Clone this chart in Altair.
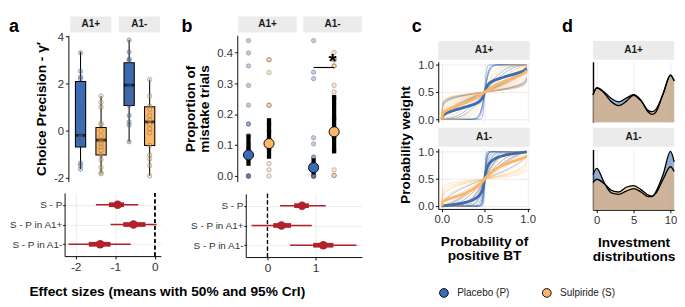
import altair as alt
import numpy as np
import pandas as pd

FONT = "Liberation Sans"
BLUE = "#3C6DB4"
ORANGE = "#FBB767"
RED = "#B2202A"
STRIP = "#EBEBEB"
GRID = "#EBEBEB"
TXT = "#333333"
TITLE_SIZE = 14.5

conds = ["A1+", "A1-"]
groups = ["P", "S"]
group_labels = ["Placebo (P)", "Sulpiride (S)"]

# ---------------- panel a : choice precision (gamma') per participant
prec_plus_P = [3.3, 2.52, 2.28, 2.2, 0.83, 0.56, -0.2, -0.28, -0.37, -0.49, -1.37, -1.48, -1.63]
prec_plus_S = [1.47, 1.2, 0.99, 0.31, 0.24, 0.0, -0.23, -0.43, -0.56, -0.69, -0.83, -1.03, -1.23, -1.56, -1.79, -1.83]
prec_minus_P = [3.84, 3.33, 3.04, 2.97, 2.77, 2.37, 1.93, 1.77, 1.47, 1.17, 1.07, 0.64, 0.37, 0.24, -0.47]
prec_minus_S = [2.17, 1.47, 1.04, 0.91, 0.64, 0.44, 0.27, 0.08, -0.09, -0.63, -1.03, -1.2, -1.48, -1.92]

box_cond = ["A1+", "A1+", "A1-", "A1-"]
box_grp = ["P", "S", "P", "S"]
box_lo = [-1.63, -1.83, -0.47, -1.92]
box_q1 = [-0.69, -1.03, 1.07, -0.63]
box_med = [-0.2, -0.4, 1.93, 0.37]
box_q3 = [2.08, 0.13, 2.88, 1.01]
box_hi = [3.33, 1.47, 3.84, 2.17]

# ---------------- panel b : proportion of mistake trials
mist_plus_P = [0.438, 0.398, 0.356, 0.293, 0.229, 0.168, 0.168, 0.131, 0.104, 0.09, 0.0, 0.0, 0.0, 0.0]
mist_plus_S = [0.376, 0.376, 0.335, 0.229, 0.229, 0.168, 0.145, 0.12, 0.086, 0.04, 0.02, 0.0]
mist_minus_P = [0.438, 0.336, 0.315, 0.124, 0.104, 0.061, 0.061, 0.0, 0.0, 0.0, 0.0, 0.0]
mist_minus_S = [0.4, 0.376, 0.376, 0.356, 0.356, 0.293, 0.272, 0.252, 0.186, 0.124, 0.084, 0.02, 0.002, 0.002]
mist_mean = [0.068, 0.105, 0.027, 0.143]
mist_lo = [0.033, 0.056, 0.005, 0.073]
mist_hi = [0.135, 0.187, 0.057, 0.262]
sig_level = 0.351
sig_star_y = 0.37

# ---------------- effect sizes (means, 50% and 95% CrI)
effect_labels = ["S - P", "S - P in A1+", "S - P in A1-"]
effA_mean = [-0.94, -0.54, -1.38]
effA_lo95 = [-1.49, -1.12, -2.18]
effA_hi95 = [-0.42, 0.04, -0.61]
effA_lo50 = [-1.16, -0.80, -1.67]
effA_hi50 = [-0.78, -0.24, -1.12]
effB_mean = [0.72, 0.29, 1.16]
effB_lo95 = [0.26, -0.33, 0.47]
effB_hi95 = [1.21, 0.92, 1.85]
effB_lo50 = [0.555, 0.12, 0.95]
effB_hi50 = [0.86, 0.49, 1.37]

# ---------------- panel c : probability grid of the weighting functions
p_grid = [round(0.01 * k, 2) for k in range(100)]

# ---------------- panel d : investment densities
inv_x = [-0.5, 0, 1, 2, 3, 4, 5, 6, 7, 7.5, 8, 9, 10, 10.5]
dens_plus_P = [0.116, 0.146, 0.128, 0.100, 0.086, 0.102, 0.116, 0.093, 0.042, 0.033, 0.042, 0.120, 0.200, 0.176]
dens_plus_S = [0.116, 0.144, 0.124, 0.086, 0.070, 0.088, 0.114, 0.090, 0.049, 0.044, 0.053, 0.120, 0.198, 0.174]
dens_minus_P = [0.150, 0.176, 0.116, 0.072, 0.066, 0.080, 0.090, 0.076, 0.056, 0.056, 0.076, 0.150, 0.248, 0.203]
dens_minus_S = [0.116, 0.130, 0.112, 0.083, 0.076, 0.096, 0.103, 0.086, 0.063, 0.058, 0.070, 0.130, 0.183, 0.163]

# ======================================================================
XO = alt.XOffset("grp:N", scale=alt.Scale(domain=groups, paddingInner=0.5, paddingOuter=0.25))
COL = alt.Color("grp:N", scale=alt.Scale(domain=groups, range=[BLUE, ORANGE]), legend=None)
FILL = alt.Fill("grp:N", scale=alt.Scale(domain=groups, range=[BLUE, ORANGE]), legend=None)
LETTER_SIZE = 19


def xband(rng, pinner):
    return alt.X("cond:N", scale=alt.Scale(domain=conds, range=rng, paddingInner=pinner, paddingOuter=0), axis=None)


def strip(domain, width, rng, pinner, letter=None, letter_x=0, height=20):
    df = pd.DataFrame({"cond": domain})
    x = alt.X("cond:N", scale=alt.Scale(domain=domain, range=rng, paddingInner=pinner, paddingOuter=0), axis=None)
    layers = [
        alt.Chart(df).mark_rect(color=STRIP).encode(x=x),
        alt.Chart(df).mark_text(font=FONT, fontSize=10.6, fontWeight="bold", color="#1A1A1A").encode(x=x, text="cond:N"),
    ]
    if letter:
        layers.append(
            alt.Chart(pd.DataFrame({"t": [letter]}))
            .mark_text(font=FONT, fontSize=LETTER_SIZE, fontWeight="bold", color="black", align="left", baseline="middle")
            .encode(x=alt.value(letter_x), y=alt.value(10), text="t:N")
        )
    return alt.layer(*layers).properties(width=width, height=height)


def letter_chart(letter, width, x):
    return (
        alt.Chart(pd.DataFrame({"t": [letter]}))
        .mark_text(font=FONT, fontSize=LETTER_SIZE, fontWeight="bold", color="black", align="left", baseline="middle")
        .encode(x=alt.value(x), y=alt.value(10), text="t:N")
        .properties(width=width, height=19)
    )


def long_points(lists, field):
    rows = []
    for (c, g), vals in lists:
        for v in vals:
            rows.append({"cond": c, "grp": g, field: v})
    return pd.DataFrame(rows)


# ---------------- panel a top
ptsA = long_points([(("A1+", "P"), prec_plus_P), (("A1+", "S"), prec_plus_S),
                    (("A1-", "P"), prec_minus_P), (("A1-", "S"), prec_minus_S)], "v")
statsA = pd.DataFrame(dict(cond=box_cond, grp=box_grp, lo=box_lo, q1=box_q1, med=box_med, q3=box_q3, hi=box_hi))
xA = xband([2, 97], 0.155)
yA_scale = alt.Scale(domain=[-2.16, 4.04], nice=False, zero=False)
yA_axis = alt.Axis(values=[-2, 0, 2, 4], title="Choice Precision - γ′", labelExpr="'' + datum.value", grid=False,
                   offset=0, labelFontSize=12)


def yA(f):
    return alt.Y(f, type="quantitative", scale=yA_scale, axis=yA_axis)


boxA = alt.layer(
    alt.Chart(statsA).mark_rule(color="black", strokeWidth=1.1).encode(x=xA, xOffset=XO, y=yA("lo"), y2="hi:Q"),
    alt.Chart(statsA).mark_bar(stroke="black", strokeWidth=1.1).encode(
        x=xA, xOffset=XO, y=yA("q1"), y2="q3:Q", color=COL),
    alt.Chart(statsA).mark_tick(color="black", thickness=3, size=11).encode(x=xA, xOffset=XO, y=yA("med")),
    alt.Chart(ptsA).mark_circle(size=22, fillOpacity=0.35, stroke="#555555", strokeWidth=0.7, strokeOpacity=0.55).encode(
        x=xA, xOffset=XO, y=yA("v"), color=COL),
).properties(width=98, height=155)

stripA = strip(conds, 98, [2, 97], 0.155, letter="a", letter_x=-63, height=17)

# ---------------- panel b top
ptsB = long_points([(("A1+", "P"), mist_plus_P), (("A1+", "S"), mist_plus_S),
                    (("A1-", "P"), mist_minus_P), (("A1-", "S"), mist_minus_S)], "v")
statsB = pd.DataFrame(dict(cond=box_cond, grp=box_grp, m=mist_mean, lo=mist_lo, hi=mist_hi))
sigB = pd.DataFrame(dict(cond=["A1-", "A1-"], grp=["P", "S"], v=[sig_level, sig_level]))
starB = pd.DataFrame(dict(cond=["A1-"], v=[sig_star_y], t=["*"]))
xB = xband([-8, 123], 0.101)
yB_scale = alt.Scale(domain=[-0.018, 0.455], nice=False, zero=False)
yB_axis = alt.Axis(values=[0, 0.1, 0.2, 0.3, 0.4], format=".1f", title=["Proportion of", "mistake trials"],
                   offset=9, grid=False, titleLineHeight=15, labelFontSize=12)


def yB(f):
    return alt.Y(f, type="quantitative", scale=yB_scale, axis=yB_axis)


boxB = alt.layer(
    alt.Chart(ptsB).mark_circle(size=22, fillOpacity=0.35, stroke="#555555", strokeWidth=0.7, strokeOpacity=0.55).encode(
        x=xB, xOffset=XO, y=yB("v"), color=COL),
    alt.Chart(statsB).mark_rule(color="black", strokeWidth=4.5).encode(x=xB, xOffset=XO, y=yB("lo"), y2="hi:Q"),
    alt.Chart(statsB).mark_point(filled=True, size=115, stroke="black", strokeWidth=1, opacity=1).encode(
        x=xB, xOffset=XO, y=yB("m"), fill=FILL),
    alt.Chart(sigB).mark_line(color="black", strokeWidth=1.2).encode(x=xB, xOffset=XO, y=yB("v")),
    alt.Chart(starB).mark_text(font=FONT, fontSize=22, fontWeight="bold", color="black", baseline="middle").encode(
        x=xB, y=yB("v"), text="t:N"),
).properties(width=123, height=155)

stripB = strip(conds, 123, [-8, 123], 0.101, letter="b", letter_x=-68, height=17)


# ---------------- forest plots
def forest(mean, lo95, hi95, lo50, hi50, domain, width, ticks, yoffset, rng=None):
    df = pd.DataFrame(dict(lab=effect_labels, m=mean, lo95=lo95, hi95=hi95, lo50=lo50, hi50=hi50))
    sc = dict(domain=domain, nice=False, zero=False)
    if rng is not None:
        sc["range"] = rng
    xs = alt.Scale(**sc)
    xax = alt.Axis(values=ticks, grid=True, title=None, labelExpr="'' + datum.value", labelFontSize=12.5)

    def X(f):
        return alt.X(f, type="quantitative", scale=xs, axis=xax)

    y = alt.Y("lab:N", scale=alt.Scale(type="point", domain=effect_labels, padding=0.6),
              axis=alt.Axis(title=None, grid=True, offset=yoffset, labelFontSize=10.5, tickSize=2, labelPadding=1))
    zero = alt.Chart(df).mark_rule(color="black", strokeDash=[4, 3], strokeWidth=1.2).encode(x=alt.datum(0))
    r95 = alt.Chart(df).mark_rule(color=RED, strokeWidth=1.6).encode(x=X("lo95"), x2="hi95:Q", y=y)
    r50 = alt.Chart(df).mark_rule(color=RED, strokeWidth=5).encode(x=X("lo50"), x2="hi50:Q", y=y)
    pt = alt.Chart(df).mark_circle(color=RED, size=80, opacity=1).encode(x=X("m"), y=y)
    return alt.layer(r95, zero, r50, pt).properties(width=width, height=67)


forestA = forest(effA_mean, effA_lo95, effA_hi95, effA_lo50, effA_hi50, [-2.279, 0.150], 98, [-2, -1, 0], 4, rng=[-4, 98])
forestB = forest(effB_mean, effB_lo95, effB_hi95, effB_lo50, effB_hi50, [-0.451, 1.961], 123, [0, 1], 0)

A = alt.vconcat(alt.vconcat(stripA, boxA, spacing=-6), forestA, spacing=9)
B = alt.vconcat(alt.vconcat(stripB, boxB, spacing=0), forestB, spacing=11)
AB = alt.hconcat(A, B, spacing=18, title=alt.TitleParams(
    "Effect sizes (means with 50% and 95% CrI)", orient="bottom", anchor="middle", font=FONT,
    fontSize=TITLE_SIZE, fontWeight="bold", color="black", offset=13, dx=-19))

# ---------------- panel c : probability weighting curves
prec_sets = [("A1+", "P", prec_plus_P), ("A1+", "S", prec_plus_S),
             ("A1-", "P", prec_minus_P), ("A1-", "S", prec_minus_S)]
crow = []
for c, g, vals in prec_sets:
    for i, gp in enumerate(vals):
        gam = float(np.exp(gp))
        for p in p_grid:
            w = p ** gam / (p ** gam + (1 - p) ** gam)
            crow.append({"cond": c, "grp": g, "id": f"{c}{g}{i}", "p": p, "w": w})
curves = pd.DataFrame(crow)
means = curves.groupby(["cond", "grp", "p"], as_index=False)["w"].mean()


def weight_plot(cond, bottom):
    d = curves[curves.cond == cond]
    m = means[means.cond == cond]
    if bottom:
        xax = alt.Axis(values=[0, 0.5, 1], format=".1f", grid=True, title=["Probability of", "positive BT"],
                       titlePadding=12, titleLineHeight=15, labelFontSize=12)
    else:
        xax = alt.Axis(values=[0, 0.5, 1], grid=True, labels=False, ticks=False, domain=False, title=None)
    xs = alt.Scale(domain=[-0.041, 1.025], nice=False, zero=False)
    ys = alt.Scale(domain=[-0.052, 1.057], nice=False, zero=False)
    yax = alt.Axis(values=[0, 0.5, 1], format=".1f", grid=True, title=None, labelFontSize=12)
    x = alt.X("p:Q", scale=xs, axis=xax)
    y = alt.Y("w:Q", scale=ys, axis=yax)
    return alt.layer(
        alt.Chart(d[d.grp == "P"]).mark_line(color=BLUE, strokeWidth=0.9, opacity=0.55).encode(x=x, y=y, detail="id:N"),
        alt.Chart(d[d.grp == "S"]).mark_line(color=ORANGE, strokeWidth=0.9, opacity=0.45).encode(x=x, y=y, detail="id:N"),
        alt.Chart(m[m.grp == "P"]).mark_line(color=BLUE, strokeWidth=3).encode(x=x, y=y),
        alt.Chart(m[m.grp == "S"]).mark_line(color=ORANGE, strokeWidth=3).encode(x=x, y=y),
    ).properties(width=97, height=64)


C_inner = alt.vconcat(
    alt.vconcat(strip(["A1+"], 97, [0, 97], 0), weight_plot("A1+", False), spacing=-1),
    alt.vconcat(strip(["A1-"], 97, [0, 97], 0), weight_plot("A1-", True), spacing=-1),
    spacing=3,
    title=alt.TitleParams("Probability weight", orient="left", anchor="middle", font=FONT, fontSize=TITLE_SIZE,
                          fontWeight="bold", color="black", offset=5, dx=7),
)
C = alt.vconcat(letter_chart("c", 97, -28), C_inner, spacing=6)


# ---------------- panel d : investment distributions
def dens_plot(cond, pvals, svals, bottom):
    df = pd.DataFrame({"inv": inv_x * 2, "dens": pvals + svals, "grp": ["P"] * len(inv_x) + ["S"] * len(inv_x)})
    if bottom:
        xax = alt.Axis(values=[0, 5, 10], grid=True, title=["Investment", "distributions"], titlePadding=12,
                       titleLineHeight=15, labelFontSize=12)
    else:
        xax = alt.Axis(values=[0, 5, 10], grid=True, labels=False, ticks=False, domain=False, title=None)
    x = alt.X("inv:Q", scale=alt.Scale(domain=[-0.5, 10.5], nice=False, zero=False), axis=xax)
    y = alt.Y("dens:Q", scale=alt.Scale(domain=[0, 0.256], nice=False),
              axis=alt.Axis(labels=False, ticks=False, grid=False, title=None, domainWidth=1.5))
    dp = df[df.grp == "P"]
    ds = df[df.grp == "S"]
    return alt.layer(
        alt.Chart(dp).mark_area(color=BLUE, opacity=0.55, interpolate="monotone").encode(x=x, y=y),
        alt.Chart(ds).mark_area(color=ORANGE, opacity=0.55, interpolate="monotone").encode(x=x, y=y),
        alt.Chart(dp).mark_line(color="black", strokeWidth=1.4, interpolate="monotone").encode(x=x, y=y),
        alt.Chart(ds).mark_line(color="black", strokeWidth=1.4, interpolate="monotone").encode(x=x, y=y),
    ).properties(width=86, height=64)


D_inner = alt.vconcat(
    alt.vconcat(strip(["A1+"], 86, [0, 86], 0), dens_plot("A1+", dens_plus_P, dens_plus_S, False), spacing=2),
    alt.vconcat(strip(["A1-"], 86, [0, 86], 0), dens_plot("A1-", dens_minus_P, dens_minus_S, True), spacing=2),
    spacing=6,
)
D = alt.vconcat(letter_chart("d", 86, -33), D_inner, spacing=6)

# ---------------- legend
leg_df = pd.DataFrame({"lab": group_labels, "grp": groups})
xl = alt.X("lab:N", scale=alt.Scale(type="point", domain=group_labels, range=[6, 115], padding=0), axis=None)
legend = alt.layer(
    alt.Chart(leg_df).mark_point(filled=True, size=85, stroke="black", strokeWidth=1, opacity=1).encode(x=xl, fill=FILL),
    alt.Chart(leg_df).mark_text(font=FONT, fontSize=10.6, color="#1A1A1A", align="left", dx=14).encode(x=xl, text="lab:N"),
).properties(width=200, height=12)

CD = alt.vconcat(alt.hconcat(C, D, spacing=27), legend, spacing=24)

chart = (
    alt.hconcat(AB, CD, spacing=38)
    .properties(padding=0)
    .configure_view(stroke=None)
    .configure_axis(labelFont=FONT, titleFont=FONT, labelColor=TXT, labelFontSize=11, titleFontSize=TITLE_SIZE,
                    titleFontWeight="bold", titleColor="black", domainColor="black", domainWidth=1,
                    tickColor="black", tickSize=3, tickWidth=1, labelPadding=2, titlePadding=6,
                    gridColor=GRID, grid=False)
    .configure_title(font=FONT)
)

chart.save("out.html", embed_options={"renderer": "svg", "actions": False})
